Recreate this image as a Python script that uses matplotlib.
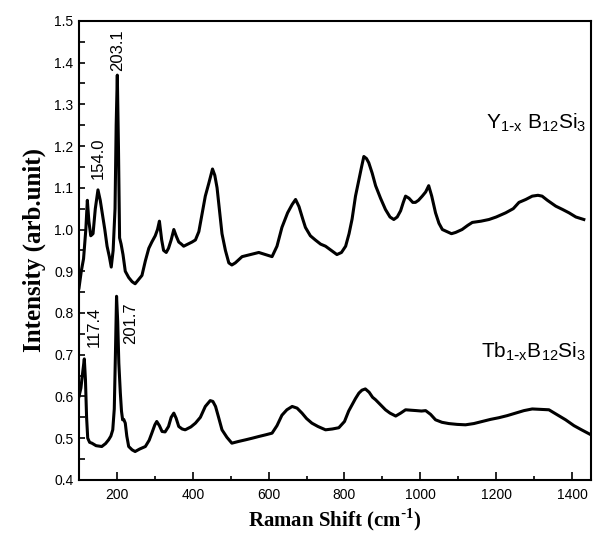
import matplotlib
matplotlib.use("Agg")
import matplotlib.pyplot as plt
from matplotlib.ticker import MultipleLocator

# Y(1-x)B12Si3 spectrum (upper)
y_shift = [100, 106, 112, 118, 122, 126, 131, 137, 143, 150, 156, 162, 168, 174, 180,
           185, 190, 195, 198, 201, 204, 207, 211, 216, 222, 231, 240, 248, 257, 266,
           275, 284, 292, 301, 307, 312, 318, 323, 330, 336, 343, 350, 356, 363, 370,
           376, 387, 398, 407, 416, 425, 433, 442, 452, 458, 464, 470, 477, 486, 495,
           503, 512, 530, 552, 574, 592, 609, 622, 635, 650, 662, 671, 680, 690, 697,
           710, 723, 737, 750, 765, 780, 792, 803, 812, 820, 829, 838, 845, 851, 858,
           864, 873, 882, 895, 908, 920, 930, 939, 948, 955, 961, 970, 980, 987, 995,
           1005, 1014, 1022, 1030, 1040, 1049, 1058, 1070, 1082, 1093, 1110, 1125, 1137,
           1160, 1181, 1200, 1225, 1245, 1260, 1278, 1295, 1310, 1321, 1335, 1357, 1375,
           1392, 1410, 1431]
y_int = [0.86, 0.90, 0.93, 1.00, 1.07, 1.02, 0.985, 0.99, 1.05, 1.095, 1.07, 1.035, 1.00, 0.96, 0.935,
         0.91, 0.95, 1.05, 1.25, 1.37, 1.20, 0.98, 0.965, 0.94, 0.90, 0.885, 0.875, 0.87, 0.88, 0.89,
         0.925, 0.955, 0.97, 0.985, 1.00, 1.02, 0.975, 0.95, 0.945, 0.955, 0.975, 1.00, 0.985, 0.97, 0.965,
         0.96, 0.965, 0.97, 0.975, 0.995, 1.04, 1.08, 1.11, 1.145, 1.13, 1.10, 1.05, 0.99, 0.95, 0.92,
         0.915, 0.92, 0.935, 0.94, 0.945, 0.94, 0.935, 0.96, 1.005, 1.04, 1.06, 1.072, 1.055, 1.025, 1.005,
         0.985, 0.975, 0.965, 0.96, 0.95, 0.94, 0.945, 0.96, 0.99, 1.025, 1.08, 1.12, 1.15, 1.175, 1.17,
         1.16, 1.135, 1.105, 1.075, 1.048, 1.03, 1.024, 1.03, 1.045, 1.065, 1.08, 1.075, 1.065, 1.065, 1.07,
         1.08, 1.09, 1.105, 1.08, 1.04, 1.015, 1.00, 0.995, 0.99, 0.993, 1.00, 1.01, 1.017,
         1.02, 1.024, 1.03, 1.04, 1.05, 1.065, 1.072, 1.08, 1.082, 1.08, 1.07, 1.056, 1.048,
         1.04, 1.03, 1.024]

# Tb(1-x)B12Si3 spectrum (lower)
tb_shift = [100, 105, 110, 114, 117, 120, 123, 128, 134, 145, 160, 170, 178, 184, 189,
            193, 196, 199, 202, 205, 209, 212, 215, 218, 222, 226, 231, 240, 248, 260,
            275, 285, 292, 300, 305, 312, 319, 327, 336, 343, 350, 356, 363, 372, 380,
            395, 407, 420, 433, 446, 453, 460, 468, 477, 490, 503, 520, 539, 557, 574,
            592, 609, 622, 635, 648, 662, 675, 688, 700, 714, 730, 750, 768, 785, 800,
            811, 820, 829, 838, 846, 855, 865, 874, 882, 895, 908, 920, 935, 948, 961,
            975, 990, 1003, 1014, 1027, 1040, 1057, 1075, 1097, 1119, 1141, 1163, 1185, 1207,
            1229, 1251, 1273, 1295, 1317, 1339, 1361, 1383, 1405, 1425, 1450]
tb_int = [0.60, 0.62, 0.66, 0.69, 0.64, 0.55, 0.50, 0.49, 0.488, 0.482, 0.48, 0.487, 0.496, 0.505, 0.52,
          0.57, 0.70, 0.84, 0.78, 0.68, 0.608, 0.565, 0.544, 0.545, 0.536, 0.505, 0.48, 0.472, 0.468, 0.474,
          0.48, 0.495, 0.512, 0.532, 0.54, 0.53, 0.516, 0.515, 0.528, 0.55, 0.56, 0.548, 0.528, 0.522, 0.52,
          0.527, 0.536, 0.55, 0.576, 0.59, 0.588, 0.576, 0.55, 0.52, 0.502, 0.488, 0.492, 0.496, 0.50, 0.504,
          0.508, 0.512, 0.53, 0.555, 0.568, 0.576, 0.572, 0.56, 0.547, 0.536, 0.528, 0.52, 0.522, 0.525, 0.54,
          0.565, 0.58, 0.595, 0.608, 0.615, 0.618, 0.61, 0.598, 0.592, 0.58, 0.568, 0.56, 0.553, 0.56, 0.568,
          0.567, 0.566, 0.565, 0.566, 0.557, 0.544, 0.538, 0.535, 0.533, 0.532, 0.535, 0.54, 0.545, 0.549,
          0.554, 0.56, 0.566, 0.57, 0.569, 0.568, 0.556, 0.544, 0.53, 0.52, 0.508]

# peak annotations: (text, x, y)
peak_labels = [("203.1", 203, 1.43), ("154.0", 152, 1.17),
               ("117.4", 139, 0.767), ("201.7", 237, 0.775)]

fig = plt.figure(figsize=(5.94, 5.35), dpi=100)
ax = fig.add_axes([0.133, 0.103, 0.862, 0.858])

ax.plot(y_shift, y_int, color='black', lw=2.2)
ax.plot(tb_shift, tb_int, color='black', lw=2.2)

for txt, px, py in peak_labels:
    ax.text(px, py, txt, rotation=90, ha='center', va='center',
            fontsize=12, family='Liberation Sans')

sub = r'$_{\mathregular{1}\text{-}\mathregular{x}}$'
ax.text(1437, 1.257, 'Y' + sub + r' B$_{\mathregular{12}}$Si$_{\mathregular{3}}$',
        ha='right', va='center', fontsize=15, family='Liberation Sans')
ax.text(1437, 0.707, 'Tb' + sub + r'B$_{\mathregular{12}}$Si$_{\mathregular{3}}$',
        ha='right', va='center', fontsize=15, family='Liberation Sans')

ax.set_xlim(100, 1450)
ax.set_ylim(0.4, 1.5)
ax.xaxis.set_major_locator(MultipleLocator(200))
ax.xaxis.set_minor_locator(MultipleLocator(100))
ax.yaxis.set_major_locator(MultipleLocator(0.1))
ax.yaxis.set_minor_locator(MultipleLocator(0.05))
ax.yaxis.set_major_formatter(plt.FormatStrFormatter('%.1f'))
ax.tick_params(which='both', direction='in', top=False, right=False, width=1.2,
               labelsize=10)
ax.tick_params(axis='x', which='major', length=6, pad=6)
ax.tick_params(axis='x', which='minor', length=3)
ax.tick_params(axis='y', which='both', length=4, pad=4)
for lab in ax.get_xticklabels() + ax.get_yticklabels():
    lab.set_family('Liberation Sans')
for sp in ax.spines.values():
    sp.set_linewidth(1.5)

ax.set_xlabel(r'Raman Shift (cm$^{\text{-}\mathregular{1}}$)', fontsize=15, fontweight='bold',
              family='Liberation Serif', labelpad=3)
ax.set_ylabel('Intensity (arb.unit)', fontsize=18, fontweight='bold',
              family='Liberation Serif', labelpad=6)

fig.savefig('out.png', dpi=100)
